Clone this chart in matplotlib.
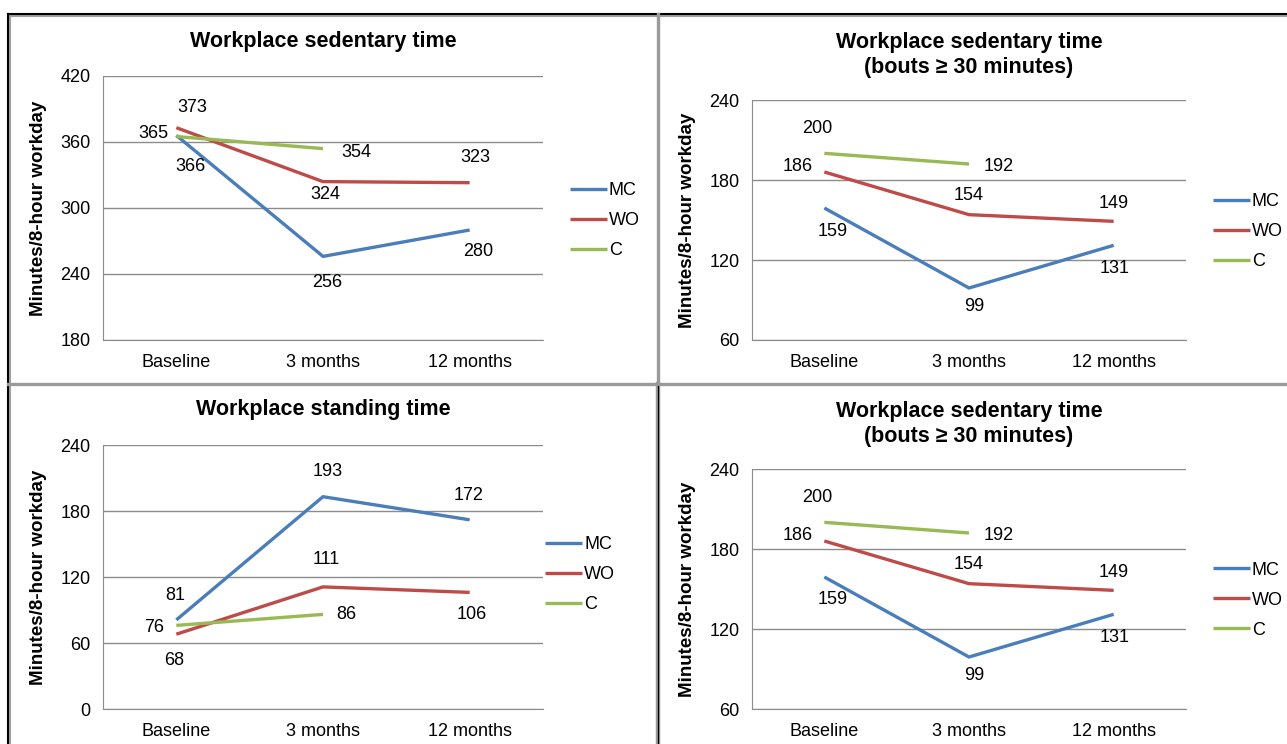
import matplotlib
matplotlib.use("Agg")
import matplotlib.pyplot as plt
import numpy as np
from matplotlib.lines import Line2D

plt.rcParams["font.family"] = ["Liberation Sans", "DejaVu Sans"]

# data
categories = ["Baseline", "3 months", "12 months"]
groups = ["MC", "WO", "C"]

sed_mc = [366, 256, 280]
sed_wo = [373, 324, 323]
sed_c = [365, 354, np.nan]

bout_mc = [159, 99, 131]
bout_wo = [186, 154, 149]
bout_c = [200, 192, np.nan]

stand_mc = [81, 193, 172]
stand_wo = [68, 111, 106]
stand_c = [76, 86, np.nan]

COLORS = {"MC": "#4A7EBB", "WO": "#BE4B48", "C": "#98B954"}
W, H = 1287, 744

# label offsets in pixels (dx, dy with dy pointing down)
sed_offsets = {"MC": [(14, 31), (4, 26), (9, 22)],
               "WO": [(16, -20), (2, 13), (6, -25)],
               "C": [(-23, -3), (33, 4), None]}
bout_offsets = {"MC": [(8, 23), (5, 18), (1, 23)],
                "WO": [(-27, -6), (0, -19), (0, -18)],
                "C": [(-7, -25), (30, 2), None]}
stand_offsets = {"MC": [(-1, -24), (5, -25), (-1, -24)],
                 "WO": [(-2, 26), (3, -27), (2, 22)],
                 "C": [(-22, 2), (23, 0), None]}

fig = plt.figure(figsize=(W / 100, H / 100), dpi=100)


def add_ax(left, right, top, bottom):
    return fig.add_axes([left / W, 1 - bottom / H, (right - left) / W, (bottom - top) / H])


def panel(ax, title, series, offsets, ylim, leg_anchor):
    x = np.arange(len(categories))
    for name, vals in zip(groups, series):
        ax.plot(x, vals, color=COLORS[name], lw=2.4, label=name, solid_capstyle="butt")
        for xi, v, off in zip(x, vals, offsets[name]):
            if off is None or np.isnan(v):
                continue
            ax.annotate(f"{v:.0f}", (xi, v), xytext=(off[0], -off[1]), textcoords="offset pixels",
                        ha="center", va="center", fontsize=13)
    ax.set_xlim(-0.5, 2.5)
    ax.set_ylim(*ylim)
    ax.set_yticks(np.arange(ylim[0], ylim[1] + 1, 60))
    ax.set_xticks(x)
    ax.set_xticklabels(categories)
    ax.tick_params(length=0, labelsize=13)
    ax.tick_params(axis="y", pad=9)
    ax.tick_params(axis="x", pad=10)
    ax.grid(axis="y", color="#8C8C8C", lw=1)
    ax.set_axisbelow(True)
    for s in ["top", "right"]:
        ax.spines[s].set_visible(False)
    ax.spines["left"].set_color("#8C8C8C")
    ax.spines["bottom"].set_color("#8C8C8C")
    ax.set_ylabel("Minutes/8-hour workday", fontsize=13.5, fontweight="bold")
    ax.yaxis.set_label_coords(-0.128, 0.5)
    nlines = title.count("\n") + 1
    ax.annotate(title, (0.5, 1), xycoords="axes fraction",
                xytext=(0, 35 if nlines == 1 else 45), textcoords="offset pixels",
                ha="center", va="center", fontsize=15.5, fontweight="bold", linespacing=1.3)
    ax.legend(loc="center left", bbox_to_anchor=leg_anchor, frameon=False, fontsize=13,
              handlelength=2.05, handletextpad=0.1, labelspacing=0.72,
              borderpad=0, borderaxespad=0)


bout_title = "Workplace sedentary time\n(bouts \u2265 30 minutes)"

ax1 = add_ax(103, 543, 76, 340)
panel(ax1, "Workplace sedentary time", [sed_mc, sed_wo, sed_c], sed_offsets, (180, 420), (1.061, 0.452))

ax2 = add_ax(752, 1186, 100, 340)
panel(ax2, bout_title, [bout_mc, bout_wo, bout_c], bout_offsets, (60, 240), (1.062, 0.45))

ax3 = add_ax(103, 543, 445, 709)
panel(ax3, "Workplace standing time", [stand_mc, stand_wo, stand_c], stand_offsets, (0, 240), (1.005, 0.508))

ax4 = add_ax(752, 1186, 469, 709)
panel(ax4, bout_title, [bout_mc, bout_wo, bout_c], bout_offsets, (60, 240), (1.062, 0.454))


# frame lines between panels
def fline(x0, y0, x1, y1, color, lw):
    fig.add_artist(Line2D([x0 / W, x1 / W], [1 - y0 / H, 1 - y1 / H], color=color, lw=lw,
                          transform=fig.transFigure))


fline(8, 16, W, 16, "#A0A0A0", 1.5)
fline(10, 14, 10, H, "#A0A0A0", 1.5)
fline(8, 14, W, 14, "black", 1.5)
fline(8, 14, 8, H, "black", 1.5)
fline(8, 384, W, 384, "#9A9A9A", 2.4)
fline(658, 14, 658, 384, "#9A9A9A", 2.4)
fline(658, 384, 658, H, "#9A9A9A", 3.2)
fline(658, 386, 658, H, "black", 0.9)

fig.savefig("out.png", dpi=100)
